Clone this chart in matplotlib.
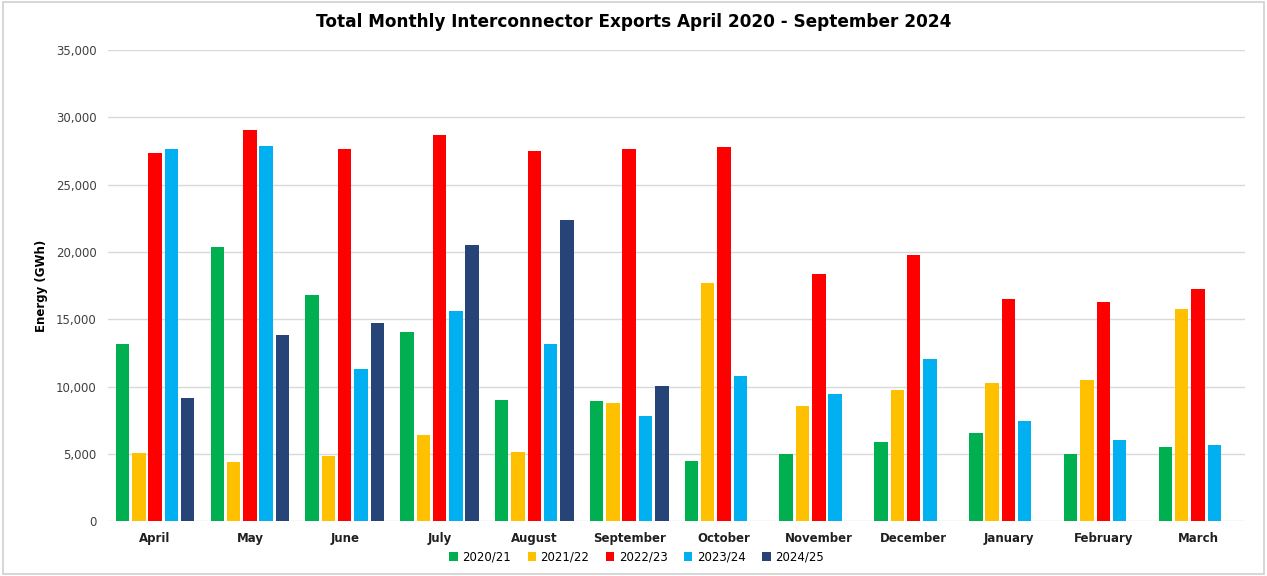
import matplotlib
matplotlib.use("Agg")
import matplotlib.pyplot as plt
import numpy as np
from matplotlib.patches import Rectangle

months = ["April", "May", "June", "July", "August", "September", "October",
          "November", "December", "January", "February", "March"]
seasons = ["2020/21", "2021/22", "2022/23", "2023/24", "2024/25"]

exp_2020 = [13150, 20370, 16800, 14080, 9030, 8910, 4510, 5000, 5870, 6580, 4980, 5520]
exp_2021 = [5070, 4410, 4880, 6440, 5120, 8810, 17670, 8560, 9780, 10270, 10490, 15770]
exp_2022 = [27320, 29060, 27620, 28690, 27470, 27670, 27790, 18390, 19750, 16480, 16260, 17250]
exp_2023 = [27620, 27840, 11290, 15590, 13170, 7820, 10820, 9460, 12030, 7480, 6040, 5690]
exp_2024 = [9130, 13810, 14750, 20490, 22400, 10020, np.nan, np.nan, np.nan, np.nan, np.nan, np.nan]

series = [exp_2020, exp_2021, exp_2022, exp_2023, exp_2024]
colours = ["#00B050", "#FFC000", "#FF0000", "#00B0F0", "#264478"]

fig = plt.figure(figsize=(12.67, 5.76), dpi=100)
ax = fig.add_axes([0.085, 0.095, 0.898, 0.818])

x = np.arange(len(months))
step = 0.172
width = 0.142
for i, (vals, col, lab) in enumerate(zip(series, colours, seasons)):
    ax.bar(x + (i - 2) * step, vals, width, color=col, label=lab, zorder=3)

ax.set_xlim(-0.5, 11.5)
ax.set_ylim(0, 35000)
ax.set_yticks(np.arange(0, 35001, 5000))
ax.set_yticklabels(["{:,}".format(v) for v in range(0, 35001, 5000)],
                   fontsize=8.5, color="#404040")
ax.set_xticks(x)
ax.set_xticklabels(months, fontsize=8.5, fontweight="bold", color="#202020")
ax.tick_params(axis="both", length=0, pad=8)
ax.grid(axis="y", color="#D9D9D9", lw=1, zorder=0)
for s in ax.spines.values():
    s.set_visible(False)

ax.set_ylabel("Energy (GWh)", fontsize=8.5, fontweight="bold",
              family=["Liberation Sans Narrow", "DejaVu Sans Condensed", "DejaVu Sans"],
              labelpad=6)

fig.suptitle("Total Monthly Interconnector Exports April 2020 - September 2024",
             x=0.50, y=0.978, fontsize=12.2, fontweight="bold")

ax.legend(loc="upper center", bbox_to_anchor=(0.465, -0.04), ncol=5, frameon=False,
          fontsize=8.5, handlelength=0.7, handleheight=0.7, columnspacing=1.4,
          handletextpad=0.4)

fig.patches.append(Rectangle((0.002, 0.003), 0.996, 0.994, transform=fig.transFigure,
                             fill=False, edgecolor="#D0D0D0", lw=1.2))

fig.savefig("out.png", dpi=100)
